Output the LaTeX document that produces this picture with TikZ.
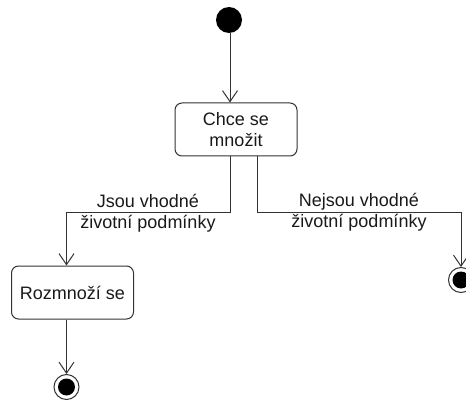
\documentclass[tikz,border=0pt]{standalone}
\usepackage{fontspec}
\setmainfont{Liberation Sans}
\usetikzlibrary{arrows.meta}
\begin{document}
\begin{tikzpicture}[x=1pt,y=-1pt,
  txt/.style={font=\fontsize{18}{21}\selectfont, text=black!90},
  action/.style={draw=black!80, line width=1pt, rounded corners=7pt, minimum width=122pt, minimum height=53pt, inner sep=0pt, align=center, txt},
  initial/.style={circle, fill=black, minimum size=26pt, inner sep=0pt},
  final/.style={circle, draw=black!80, line width=1pt, minimum size=25pt, inner sep=0pt, path picture={\fill[black] (path picture bounding box.center) circle (8.5);}},
  flow/.style={draw=black!80, line width=1pt, -{Straight Barb[length=11pt,width=15pt,line width=1pt]}},
  lbl/.style={txt, align=center, inner sep=0pt}
]
\useasboundingbox (0,0) rectangle (466,401);
\node[initial] (start) at (229,20) {};
\node[action] (chce) at (236,129.5) {Chce se\\množit};
\node[action] (rozm) at (72.5,292.5) {Rozmnoží se};
\node[final] (end1) at (66.5,387) {};
\node[final] (end2) at (461,280) {};
\coordinate (a1) at (230,212);
\coordinate (a2) at (66.5,212);
\coordinate (b1) at (257,212);
\coordinate (b2) at (461,212);
\draw[flow] (start.south -| chce.north -| a1) -- (a1 |- chce.north);
\draw[flow] (chce.south -| a1) -- (a1) -- (a2) -- (a2 |- rozm.north);
\draw[flow] (chce.south -| b1) -- (b1) -- (b2) -- (end2.north);
\draw[flow] (rozm.south -| end1) -- (end1.north);
\node[lbl] (l1) at (148,213) {Jsou vhodné\\životní podmínky};
\node[lbl] (l2) at (359,212) {Nejsou vhodné\\životní podmínky};
\end{tikzpicture}
\end{document}
